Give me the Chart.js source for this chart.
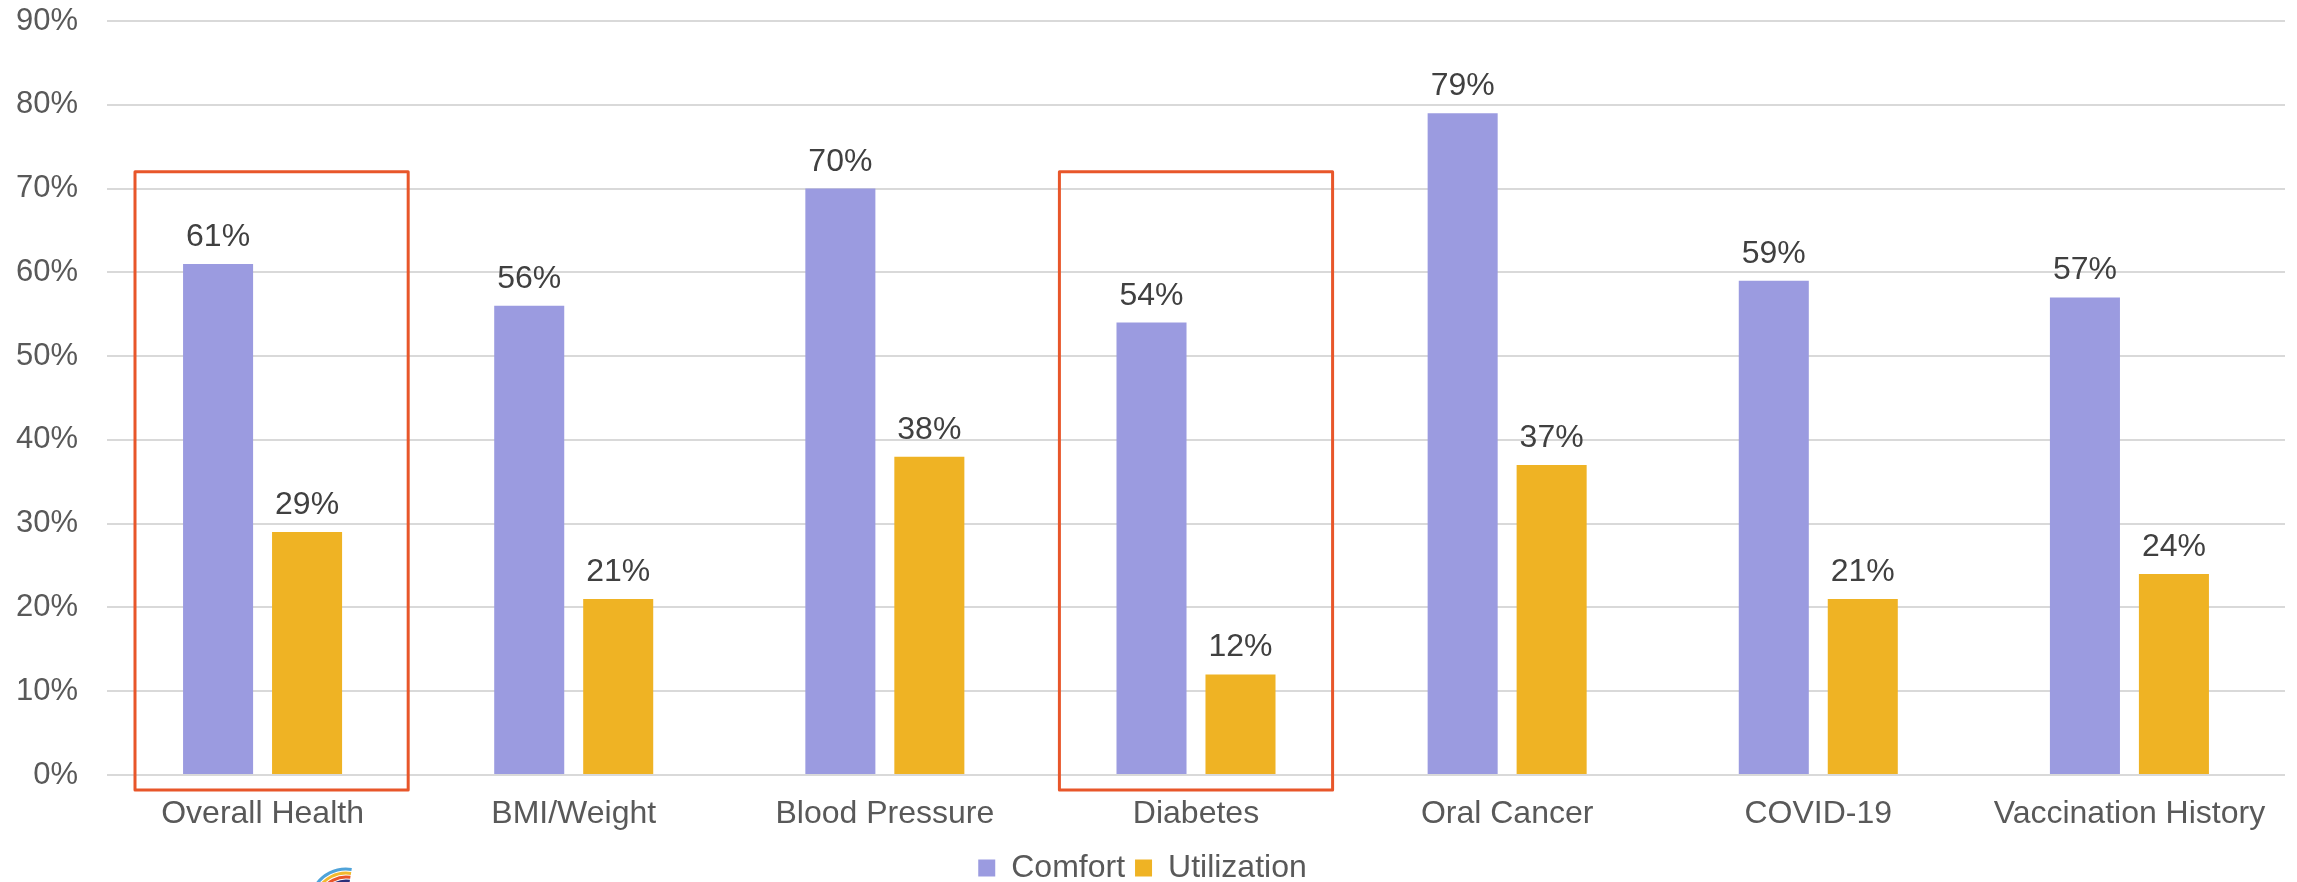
<!DOCTYPE html>
<html><head><meta charset="utf-8">
<script src="https://cdn.jsdelivr.net/npm/chart.js@4"></script>
<style>html,body{margin:0;padding:0;background:#fff;overflow:hidden}#wrap{width:2297px;height:882px;position:relative}</style>
</head><body><div id="wrap"><canvas id="c" width="2297" height="882"></canvas></div>
<script>
const categories = ['Overall Health', 'BMI/Weight', 'Blood Pressure', 'Diabetes', 'Oral Cancer', 'COVID-19', 'Vaccination History'];
const comfort = [61, 56, 70, 54, 79, 59, 57];
const utilization = [29, 21, 38, 12, 37, 21, 24];
const yTickValues = [0, 10, 20, 30, 40, 50, 60, 70, 80, 90];
const highlighted = ['Overall Health', 'Diabetes'];
const highlightTop = 72;

const FONT = "'Liberation Sans', Arial, sans-serif";
Chart.defaults.font.family = FONT;

const dataLabels = {
  id: 'dataLabels',
  afterDatasetsDraw(chart) {
    const ctx = chart.ctx;
    ctx.save();
    ctx.font = '32px ' + FONT;
    ctx.fillStyle = '#404040';
    ctx.textAlign = 'center';
    ctx.textBaseline = 'alphabetic';
    chart.data.datasets.forEach((ds, di) => {
      const meta = chart.getDatasetMeta(di);
      meta.data.forEach((el, i) => {
        ctx.fillText(ds.data[i] + '%', el.x, el.y - 18);
      });
    });
    ctx.restore();
  }
};

const highlightBoxes = {
  id: 'highlightBoxes',
  afterDatasetsDraw(chart) {
    const x = chart.scales.x, y = chart.scales.y, ctx = chart.ctx;
    const cw = x.getPixelForValue(1) - x.getPixelForValue(0);
    const shifts = {'Overall Health': 0.029, 'Diabetes': 0};
    ctx.save();
    ctx.strokeStyle = '#E8562A';
    ctx.lineWidth = 3;
    ctx.lineJoin = 'round';
    highlighted.forEach(name => {
      const idx = categories.indexOf(name);
      const cx = x.getPixelForValue(idx) + (shifts[name] || 0) * cw;
      const half = 0.439 * cw;
      const top = y.getPixelForValue(highlightTop);
      const bottom = y.getPixelForValue(0) + 15;
      ctx.strokeRect(cx - half, top, half * 2, bottom - top);
    });
    ctx.restore();
  }
};

const logo = {
  id: 'logo',
  afterDraw(chart) {
    const ctx = chart.ctx;
    ctx.save();
    const cx = 346, cy = 905;
    const arcs = [['#4FA3D9', 36], ['#F2B92F', 32], ['#E8562A', 28], ['#2B2F7A', 24]];
    ctx.lineWidth = 3;
    arcs.forEach(([c, r]) => {
      ctx.strokeStyle = c;
      ctx.beginPath();
      ctx.arc(cx, cy, r, Math.PI * 1.15, Math.PI * 1.55);
      ctx.stroke();
    });
    ctx.restore();
  }
};

new Chart(document.getElementById('c'), {
  type: 'bar',
  data: {
    labels: categories,
    datasets: [
      { label: 'Comfort', data: comfort, backgroundColor: '#9B9BE0', categoryPercentage: 0.572, barPercentage: 0.787 },
      { label: 'Utilization', data: utilization, backgroundColor: '#EFB324', categoryPercentage: 0.572, barPercentage: 0.787 }
    ]
  },
  options: {
    responsive: false,
    animation: false,
    devicePixelRatio: 1,
    layout: { padding: { top: 0, right: 12, left: 0, bottom: -12 } },
    plugins: {
      legend: {
        position: 'bottom',
        labels: { font: { size: 32 }, color: '#595959', boxWidth: 17, boxHeight: 17, padding: 10 }
      },
      tooltip: { enabled: false }
    },
    scales: {
      x: {
        grid: { display: false, drawTicks: false },
        border: { display: false },
        ticks: { font: { size: 32 }, color: '#595959', padding: 20, maxRotation: 0 },
        afterFit(s) { s.height = 67; }
      },
      y: {
        min: 0, max: 90,
        afterBuildTicks(s) { s.ticks = yTickValues.map(v => ({ value: v })); },
        grid: { color: '#D9D9D9', lineWidth: 2, drawTicks: false },
        border: { display: false },
        ticks: { font: { size: 31 }, color: '#595959', padding: 29, callback: v => v + '%' },
        afterFit(s) { s.width = 107; s.paddingTop = 21; s.paddingBottom = 0; }
      }
    }
  },
  plugins: [dataLabels, highlightBoxes, logo]
});
</script>
</body></html>
